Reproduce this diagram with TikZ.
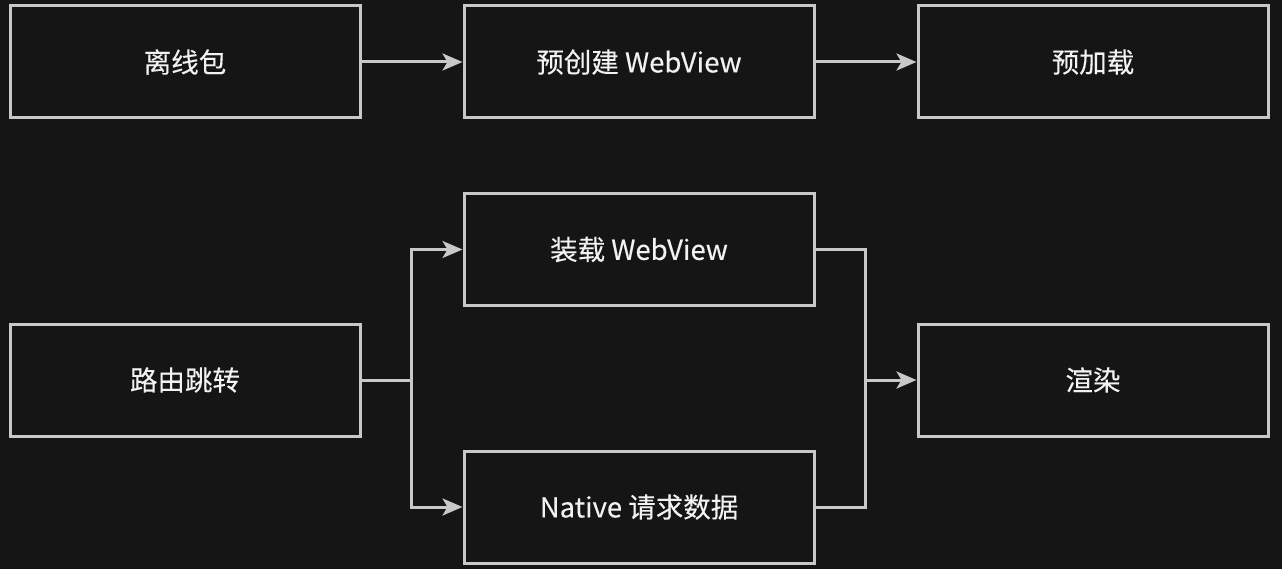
\documentclass[tikz,border=0pt]{standalone}
\usepackage{fontspec}
\setmainfont{Noto Sans CJK SC}
\newfontfamily\boxfont{Noto Sans CJK SC}[FakeBold=0.2]
\usetikzlibrary{arrows.meta}
\definecolor{bg}{HTML}{151515}
\definecolor{ln}{HTML}{C8C8C8}
\definecolor{tx}{HTML}{F2F2F2}
\begin{document}
\begin{tikzpicture}[x=1pt,y=-1pt,
  box/.style={draw=ln,line width=3pt,minimum width=350pt,minimum height=112pt,inner sep=0pt,text=tx,font=\boxfont\fontsize{27.5}{32}\selectfont},
  conn/.style={draw=ln,line width=3pt},
  arr/.style={conn,-{Stealth[length=20pt,width=17pt,inset=5pt]}}]
\fill[bg] (0,0) rectangle (1282,569);
\useasboundingbox (0,0) rectangle (1282,569);
\node[box] (a) at (185,62) {离线包};
\node[box] (b) at (639,62) {预创建 WebView};
\node[box] (c) at (1093,62) {预加载};
\node[box] (d) at (639,249.5) {装载 WebView};
\node[box] (e) at (185,380) {路由跳转};
\node[box] (f) at (1093,380) {渲染};
\node[box] (g) at (639,507) {Native 请求数据};
\draw[arr] (a) -- (b);
\draw[arr] (b) -- (c);
\coordinate (s) at (411,380);
\coordinate (m) at (865,380);
\draw[conn] (e.east) -- (s);
\draw[arr] (s) |- (d.west);
\draw[arr] (s) |- (g.west);
\draw[conn] (d.east) -| (m);
\draw[conn] (g.east) -| (m);
\draw[arr] (m) -- (f.west);
\end{tikzpicture}
\end{document}
